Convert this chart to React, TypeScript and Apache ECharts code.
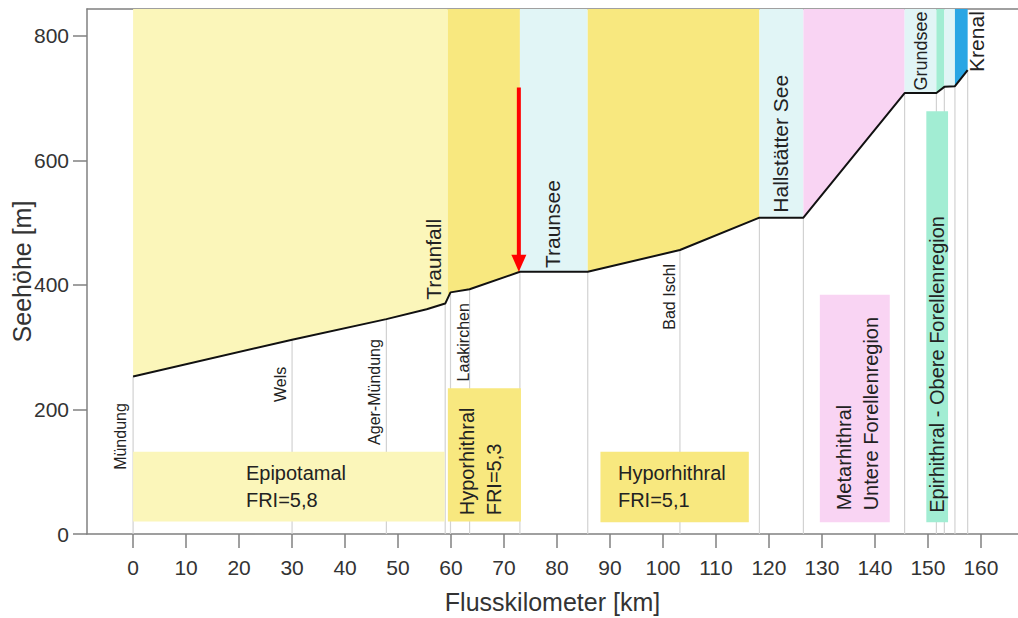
import React, { useEffect, useRef } from "react";
import * as echarts from "echarts";

// ---- data ----
const xTicks = [0, 10, 20, 30, 40, 50, 60, 70, 80, 90, 100, 110, 120, 130, 140, 150, 160];
const yTicks = [0, 200, 400, 600, 800];
const X_MIN = -8.7;
const X_MAX = 167;
const Y_MAX = 843;

// longitudinal profile of the Traun (km, elevation m)
const profileKm = [0, 30, 47.8, 55.4, 58.9, 59.9, 63.5, 73, 85.8, 103.2, 118.2, 126.5, 145.6, 151.6, 153.1, 155.1, 157.5];
const profileElev = [253, 312, 345, 361, 370, 388, 393, 421, 421, 456, 508, 508, 708, 708, 718, 719, 745];

// coloured zones above the profile
const zoneStart = [0, 59.4, 73, 85.8, 118.2, 126.5, 145.6, 151.6, 153.1, 155.1];
const zoneEnd = [59.4, 73, 85.8, 118.2, 126.5, 145.6, 151.6, 153.1, 155.1, 157.5];
const zoneType = ["epipotamal", "hyporhithral", "see", "hyporhithral", "see", "metarhithral", "see", "epirhithral", "see", "krenal"];

// drop lines at measured points
const dropKm = [0, 30, 47.8, 58.9, 59.9, 63.5, 73, 85.8, 103.2, 118.2, 126.5, 145.6, 151.6, 153.1, 155.1, 157.5];

// region boxes (km range, elevation range)
const boxText = [
  "Epipotamal\nFRI=5,8",
  "Hyporhithral\nFRI=5,3",
  "Hyporhithral\nFRI=5,1",
  "Metarhithral\nUntere Forellenregion",
  "Epirhithral - Obere Forellenregion",
];
const boxType = ["epipotamal", "hyporhithral", "hyporhithral", "metarhithral", "epirhithral"];
const boxStart = [0, 59.4, 88.2, 129.6, 149.7];
const boxEnd = [58.8, 73.2, 116.2, 142.8, 153.8];
const boxBottom = [20, 20, 19, 19, 19];
const boxTop = [132, 234, 132, 384, 679];
const boxLabelKm = [21.3, 65.5, 91.5, 136.7, 151.7];
const boxLabelElev = [77, 30, 77, 38, 34];
const boxVertical = [false, true, false, true, true];

// place names
const placeNames = ["Mündung", "Wels", "Ager-Mündung", "Traunfall", "Laakirchen", "Traunsee", "Bad Ischl", "Hallstätter See", "Grundsee", "Krenal"];
const placeKm = [-2.3, 27.9, 45.6, 56.7, 62.4, 79.2, 101.3, 122.2, 148.6, 159.2];
const placeElev = [103, 212, 143, 376, 245, 427, 328, 516, 712, 742];

// arrow (km, from elevation, to elevation)
const arrowKm = [72.8];
const arrowFrom = [717];
const arrowTo = [421];

// ---- styles ----
const FONT = "'Liberation Sans', Arial, Helvetica, sans-serif";
const zoneColor: Record<string, string> = {
  epipotamal: "#fbf6ba",
  hyporhithral: "#f8e87f",
  see: "#e1f5f6",
  metarhithral: "#f9d4f3",
  epirhithral: "#a2edd3",
  krenal: "#2aa6e4",
};
const bigPlaces = new Set(["Traunfall", "Traunsee", "Hallstätter See", "Krenal"]);
const midPlaces = new Set(["Grundsee"]);
const axisColor = "#808080";

function elevAt(km: number): number {
  if (km <= profileKm[0]) return profileElev[0];
  for (let i = 1; i < profileKm.length; i++) {
    if (km <= profileKm[i]) {
      const t = (km - profileKm[i - 1]) / (profileKm[i] - profileKm[i - 1]);
      return profileElev[i - 1] + t * (profileElev[i] - profileElev[i - 1]);
    }
  }
  return profileElev[profileElev.length - 1];
}

export default function App() {
  const ref = useRef<HTMLDivElement>(null);
  useEffect(() => {
    if (!ref.current) return;
    const chart = echarts.init(ref.current, null, { renderer: "svg" });

    const zoneData = zoneStart.map((s, i) => [s, zoneEnd[i], i]);
    const dropData = dropKm.map((k) => [k, elevAt(k)]);
    const boxData = boxStart.map((s, i) => [s, boxEnd[i], boxBottom[i], boxTop[i], i]);
    const placeData = placeNames.map((_, i) => [placeKm[i], placeElev[i], i]);
    const arrowData = arrowKm.map((k, i) => [k, arrowFrom[i], arrowTo[i]]);
    const profileData = profileKm.map((k, i) => [k, profileElev[i]]);

    const option: any = {
      animation: false,
      backgroundColor: "#ffffff",
      textStyle: { fontFamily: FONT },
      grid: { left: 87, right: 0, top: 9, bottom: 84, containLabel: false, outerBoundsMode: "none" },
      xAxis: [
        {
          type: "value",
          min: X_MIN,
          max: X_MAX,
          position: "bottom",
          name: "Flusskilometer [km]",
          nameLocation: "middle",
          nameGap: 55,
          nameMoveOverlap: false,
          nameTextStyle: { fontSize: 25, color: "#333", fontFamily: FONT },
          axisLine: { show: true, onZero: false, lineStyle: { color: axisColor, width: 1.5 } },
          axisTick: { show: true, length: 14, customValues: xTicks, lineStyle: { color: axisColor, width: 1.5 } },
          axisLabel: { customValues: xTicks, fontSize: 21, color: "#333", margin: 23, fontFamily: FONT },
          splitLine: { show: false },
        },
        {
          type: "value",
          min: X_MIN,
          max: X_MAX,
          position: "top",
          axisLine: { show: true, onZero: false, lineStyle: { color: axisColor, width: 1.5 } },
          axisTick: { show: false },
          axisLabel: { show: false },
          splitLine: { show: false },
        },
      ],
      yAxis: {
        type: "value",
        min: 0,
        max: Y_MAX,
        name: "Seehöhe [m]",
        nameLocation: "middle",
        nameGap: 53,
        nameMoveOverlap: false,
        nameTextStyle: { fontSize: 25, color: "#333", fontFamily: FONT },
        axisLine: { show: true, onZero: false, lineStyle: { color: axisColor, width: 1.5 } },
        axisTick: { show: true, length: 14, customValues: yTicks, lineStyle: { color: axisColor, width: 1.5 } },
        axisLabel: { customValues: yTicks, fontSize: 21, color: "#333", margin: 18, fontFamily: FONT },
        splitLine: { show: false },
      },
      series: [
        {
          type: "custom",
          name: "zones",
          z: 1,
          data: zoneData,
          renderItem: (params: any, api: any) => {
            const a = api.value(0);
            const b = api.value(1);
            const idx = api.value(2);
            const pts: number[][] = [];
            pts.push(api.coord([a, Y_MAX]));
            pts.push(api.coord([a, elevAt(a)]));
            for (let i = 0; i < profileKm.length; i++) {
              if (profileKm[i] > a && profileKm[i] < b) pts.push(api.coord([profileKm[i], profileElev[i]]));
            }
            pts.push(api.coord([b, elevAt(b)]));
            pts.push(api.coord([b, Y_MAX]));
            return {
              type: "polygon",
              shape: { points: pts },
              style: { fill: zoneColor[zoneType[idx]] },
            };
          },
        },
        {
          type: "custom",
          name: "drops",
          z: 2,
          data: dropData,
          renderItem: (params: any, api: any) => {
            const p0 = api.coord([api.value(0), 0]);
            const p1 = api.coord([api.value(0), api.value(1)]);
            return {
              type: "line",
              shape: { x1: p0[0], y1: p0[1], x2: p1[0], y2: p1[1] },
              style: { stroke: "#d2d2d2", lineWidth: 1.2 },
            };
          },
        },
        {
          type: "custom",
          name: "boxes",
          z: 3,
          data: boxData,
          renderItem: (params: any, api: any) => {
            const idx = api.value(4);
            const p0 = api.coord([api.value(0), api.value(3)]);
            const p1 = api.coord([api.value(1), api.value(2)]);
            const tp = api.coord([boxLabelKm[idx], boxLabelElev[idx]]);
            return {
              type: "group",
              children: [
                {
                  type: "rect",
                  shape: { x: p0[0], y: p0[1], width: p1[0] - p0[0], height: p1[1] - p0[1] },
                  style: { fill: zoneColor[boxType[idx]] },
                },
                {
                  type: "text",
                  x: tp[0],
                  y: tp[1],
                  rotation: boxVertical[idx] ? Math.PI / 2 : 0,
                  style: {
                    text: boxText[idx],
                    fontSize: 20,
                    fontFamily: FONT,
                    fill: "#222",
                    align: "left",
                    verticalAlign: "middle",
                    lineHeight: 27,
                  },
                },
              ],
            };
          },
        },
        {
          type: "line",
          name: "profile",
          z: 4,
          data: profileData,
          showSymbol: false,
          symbol: "none",
          lineStyle: { color: "#111", width: 2 },
        },
        {
          type: "custom",
          name: "places",
          z: 5,
          data: placeData,
          renderItem: (params: any, api: any) => {
            const idx = api.value(2);
            const p = api.coord([api.value(0), api.value(1)]);
            const name = placeNames[idx];
            const size = bigPlaces.has(name) ? 21 : midPlaces.has(name) ? 18 : 16;
            return {
              type: "text",
              x: p[0],
              y: p[1],
              rotation: Math.PI / 2,
              style: {
                text: name,
                fontSize: size,
                fontFamily: FONT,
                fill: "#222",
                align: "left",
                verticalAlign: "middle",
              },
            };
          },
        },
        {
          type: "custom",
          name: "arrow",
          z: 6,
          data: arrowData,
          renderItem: (params: any, api: any) => {
            const top = api.coord([api.value(0), api.value(1)]);
            const tip = api.coord([api.value(0), api.value(2)]);
            const headLen = 17;
            const headHalf = 7.5;
            return {
              type: "group",
              children: [
                {
                  type: "line",
                  shape: { x1: top[0], y1: top[1], x2: tip[0], y2: tip[1] - headLen + 2 },
                  style: { stroke: "#ff0000", lineWidth: 4 },
                },
                {
                  type: "polygon",
                  shape: {
                    points: [
                      [tip[0] - headHalf, tip[1] - headLen],
                      [tip[0] + headHalf, tip[1] - headLen],
                      [tip[0], tip[1]],
                    ],
                  },
                  style: { fill: "#ff0000" },
                },
              ],
            };
          },
        },
      ],
    };

    chart.setOption(option);
    return () => chart.dispose();
  }, []);

  return (
    <div
      ref={ref}
      style={{ position: "fixed", left: 0, top: 0, width: 1018, height: 618, background: "#fff" }}
    />
  );
}
